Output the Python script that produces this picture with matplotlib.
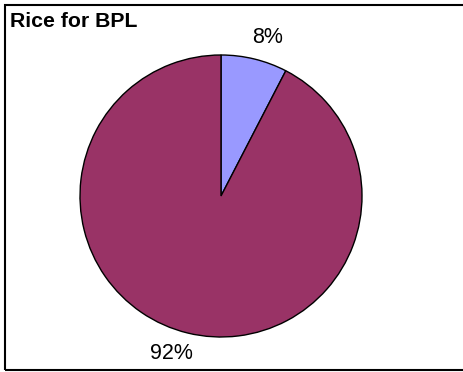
import matplotlib
matplotlib.use("Agg")
import matplotlib.pyplot as plt
from matplotlib.patches import Rectangle

categories = ["Rice for BPL", "Other"]
values = [7.6, 92.4]
colors = ["#9999FF", "#993366"]
title = "Rice for BPL"

W, H = 464, 372
fig = plt.figure(figsize=(W/100, H/100), dpi=100)
plt.rcParams['font.family'] = ['Liberation Sans', 'DejaVu Sans']

cx, cy, r = 221, 196, 141
ax = fig.add_axes([(cx - r)/W, (H - cy - r)/H, 2*r/W, 2*r/H])
wedges, texts, autotexts = ax.pie(values, colors=colors, startangle=90, counterclock=False,
       autopct='%1.0f%%', pctdistance=1.19,
       wedgeprops=dict(edgecolor='black', linewidth=1.0),
       textprops=dict(fontsize=15.5, color='black'))
# label placement as in the reference
label_pos = [(0.33, 1.125), (-0.355, -1.12)]
for t, p in zip(autotexts, label_pos):
    t.set_position(p)
ax.set_xlim(-1, 1)
ax.set_ylim(-1, 1)
ax.set_aspect('equal')
ax.axis('off')

fig.patches.append(Rectangle((5.5/W, 2/H), 1.0, (365)/H, transform=fig.transFigure,
                             fill=False, edgecolor='black', linewidth=1.5, clip_on=False))
fig.text(10/W, 1 - 12/H, title, fontsize=15.3, fontweight='bold', ha='left', va='top')

fig.savefig("out.png", dpi=100)
